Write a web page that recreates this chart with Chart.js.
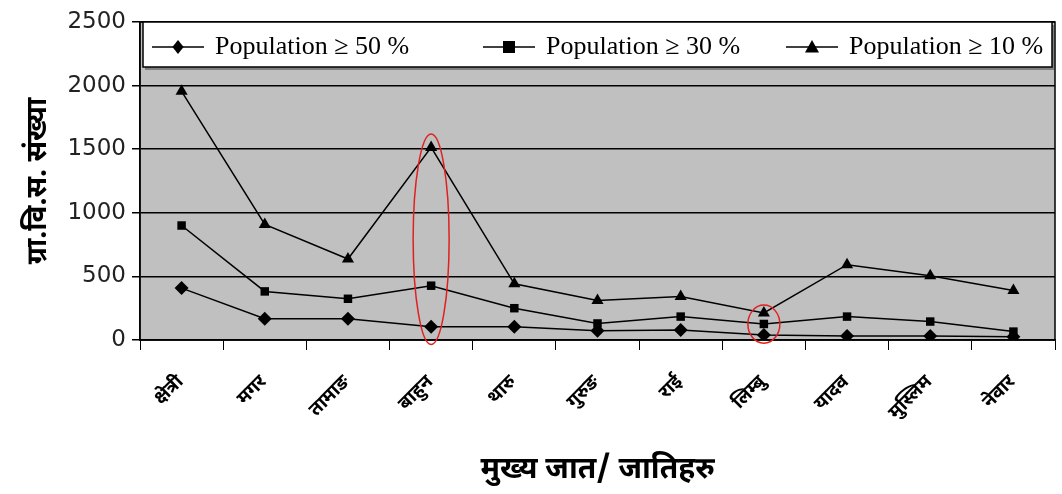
<!DOCTYPE html>
<html lang="ne">
<head>
    <meta charset="UTF-8">
    <title>Population chart</title>
    <script src="https://cdn.jsdelivr.net/npm/chart.js"></script>
    <style>
        body, html {
            margin: 0;
            padding: 0;
            background: #fff;
            overflow: hidden;
        }
        #wrap {
            width: 1062px;
            height: 494px;
        }
    </style>
</head>
<body>
    <div id="wrap"><canvas id="popChart"></canvas></div>

    <script>
        const castes = ['क्षेत्री', 'मगर', 'तामाङ', 'बाहुन', 'थारु', 'गुरुङ', 'राई', 'लिम्बु', 'यादव', 'मुस्लिम', 'नेवार'];
        const pop50 = [408, 168, 168, 105, 105, 73, 79, 40, 32, 32, 26];
        const pop30 = [900, 382, 324, 427, 250, 130, 184, 126, 184, 145, 66];
        const pop10 = [1955, 908, 637, 1514, 442, 310, 342, 213, 592, 505, 390];
        const seriesNames = ['Population ≥ 50 %', 'Population ≥ 30 %', 'Population ≥ 10 %'];
        const yTicks = [0, 500, 1000, 1500, 2000, 2500];
        // highlighted points: [category index, low value, high value]
        const rings = [[3, -35, 1620], [7, -25, 275]];

        const devFont = '"Noto Sans Devanagari", "Noto Sans", "DejaVu Sans", sans-serif';

        const plotBg = {
            id: 'plotBg',
            beforeDraw(chart) {
                const { ctx, chartArea: a } = chart;
                ctx.save();
                ctx.fillStyle = '#c0c0c0';
                ctx.fillRect(a.left, a.top, a.right - a.left, a.bottom - a.top);
                ctx.restore();
            },
            afterDraw(chart) {
                const { ctx, chartArea: a, scales } = chart;
                ctx.save();
                // plot frame
                ctx.strokeStyle = '#000';
                ctx.lineWidth = 1.5;
                ctx.strokeRect(a.left, a.top, a.right - a.left, a.bottom - a.top);

                // red rings
                ctx.strokeStyle = '#e02020';
                ctx.lineWidth = 1.5;
                rings.forEach(([i, lo, hi]) => {
                    const cx = scales.x.getPixelForValue(i);
                    const y1 = scales.y.getPixelForValue(hi);
                    const y2 = scales.y.getPixelForValue(lo);
                    const ry = (y2 - y1) / 2;
                    const rx = i === 3 ? 18 : 16;
                    ctx.beginPath();
                    ctx.ellipse(cx, (y1 + y2) / 2, rx, ry, 0, 0, Math.PI * 2);
                    ctx.stroke();
                });

                // legend box inside the plot
                const bx = a.left + 3, by = a.top, bw = a.right - a.left - 6, bh = 45;
                ctx.fillStyle = '#808080';
                ctx.fillRect(bx + 2, by + 3, bw, bh);
                ctx.fillStyle = '#fff';
                ctx.fillRect(bx, by, bw, bh);
                ctx.strokeStyle = '#000';
                ctx.lineWidth = 1.5;
                ctx.strokeRect(bx, by, bw, bh);

                const starts = [9, 340, 643];
                const cy = by + 25;
                chart.data.datasets.forEach((ds, k) => {
                    const x0 = bx + starts[k];
                    ctx.strokeStyle = '#000';
                    ctx.lineWidth = 1.5;
                    ctx.beginPath();
                    ctx.moveTo(x0, cy);
                    ctx.lineTo(x0 + 52, cy);
                    ctx.stroke();
                    ctx.fillStyle = '#000';
                    drawMarker(ctx, ds.pointStyle, x0 + 26, cy, ds.pointRadius);
                    ctx.font = '26px "Liberation Serif", serif';
                    ctx.textBaseline = 'middle';
                    ctx.fillText(ds.label, x0 + 63, cy);
                });
                ctx.restore();
            }
        };

        function drawMarker(ctx, style, x, y, r) {
            ctx.beginPath();
            if (style === 'rectRot') {
                ctx.moveTo(x, y - r); ctx.lineTo(x + r * 0.8, y);
                ctx.lineTo(x, y + r); ctx.lineTo(x - r * 0.8, y);
            } else if (style === 'rect') {
                ctx.rect(x - r, y - r, r * 2, r * 2);
            } else {
                ctx.moveTo(x, y - r); ctx.lineTo(x + r, y + r * 0.8); ctx.lineTo(x - r, y + r * 0.8);
            }
            ctx.closePath();
            ctx.fill();
        }

        function makeSet(label, data, style, r) {
            return {
                label: label,
                data: data,
                borderColor: '#000',
                backgroundColor: '#000',
                borderWidth: 1.5,
                pointStyle: style,
                pointRadius: r,
                pointBorderWidth: 0,
                pointBackgroundColor: '#000',
                tension: 0
            };
        }

        new Chart(document.getElementById('popChart'), {
            type: 'line',
            data: {
                labels: castes,
                datasets: [
                    makeSet(seriesNames[0], pop50, 'rectRot', 7),
                    makeSet(seriesNames[1], pop30, 'rect', 6),
                    makeSet(seriesNames[2], pop10, 'triangle', 7)
                ]
            },
            options: {
                responsive: true,
                maintainAspectRatio: false,
                animation: false,
                layout: { padding: { top: 22, right: 4, left: 0, bottom: 0 } },
                plugins: {
                    legend: { display: false },
                    tooltip: { enabled: false }
                },
                scales: {
                    x: {
                        offset: true,
                        grid: {
                            offset: true,
                            drawOnChartArea: false,
                            color: '#000',
                            lineWidth: 1,
                            tickLength: 10
                        },
                        border: { display: true, color: '#000', width: 1.5 },
                        ticks: {
                            color: '#000',
                            maxRotation: 45,
                            minRotation: 45,
                            padding: 22,
                            font: { family: devFont, size: 19, weight: 'bold' }
                        },
                        title: {
                            display: true,
                            text: 'मुख्य जात/ जातिहरु',
                            color: '#000',
                            padding: { top: 10, bottom: 4 },
                            font: { family: devFont, size: 30, weight: 'bold' }
                        },
                        afterFit(scale) { scale.height = 154; }
                    },
                    y: {
                        min: 0,
                        max: 2500,
                        afterBuildTicks(scale) { scale.ticks = yTicks.map(v => ({ value: v })); },
                        grid: {
                            color: '#000',
                            lineWidth: 1.5,
                            tickLength: 8
                        },
                        border: { display: true, color: '#000', width: 1.5 },
                        ticks: {
                            color: '#222',
                            padding: 6,
                            callback: v => String(v),
                            font: { family: '"DejaVu Sans", sans-serif', size: 23 }
                        },
                        title: {
                            display: true,
                            text: 'ग्रा.वि.स. संख्या',
                            color: '#000',
                            padding: { top: 24, bottom: 4 },
                            font: { family: devFont, size: 28, weight: 'bold' }
                        },
                        afterFit(scale) { scale.width = 140; }
                    }
                }
            },
            plugins: [plotBg]
        });
    </script>
</body>
</html>
